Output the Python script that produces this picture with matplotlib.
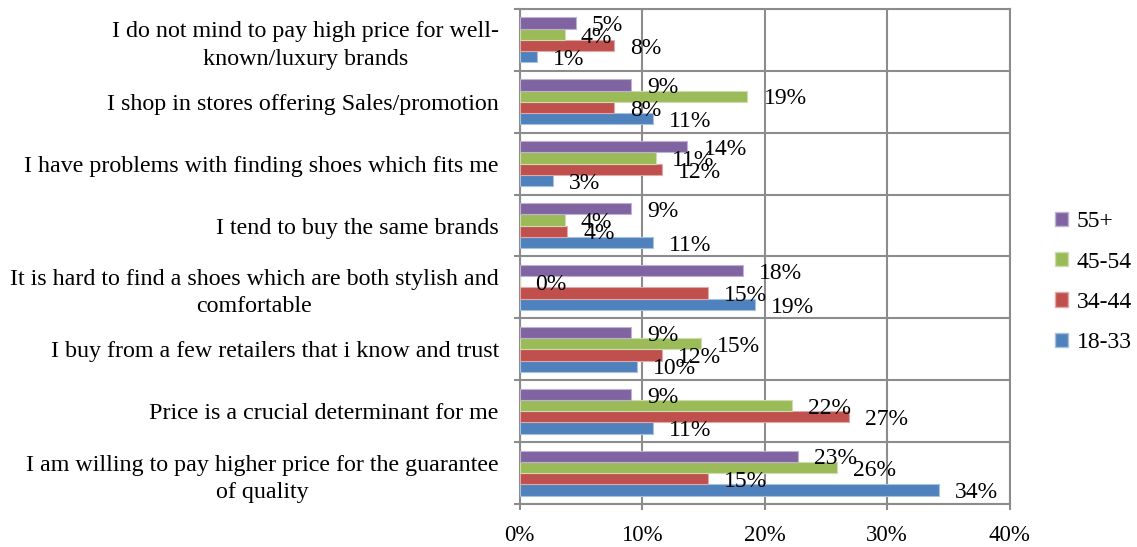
import numpy as np
import matplotlib
matplotlib.use("Agg")
import matplotlib.pyplot as plt
from matplotlib.patches import Patch

plt.rcParams['font.family'] = ['Liberation Serif', 'DejaVu Serif']

# statements, top to bottom as in the chart
statements = [
    "I do not mind to pay high price for well-\nknown/luxury brands",
    "I shop in stores offering Sales/promotion",
    "I have problems with finding shoes which fits me",
    "I tend to buy the same brands",
    "It is hard to find a shoes which are both stylish and\ncomfortable",
    "I buy from a few retailers that i know and trust",
    "Price is a crucial determinant for me",
    "I am willing to pay higher price for the guarantee\nof quality",
]

# share of each age group (%)
age_18_33 = [1.4, 10.9, 2.7, 10.9, 19.2, 9.6, 10.9, 34.2]
age_34_44 = [7.7, 7.7, 11.6, 3.9, 15.4, 11.6, 26.9, 15.4]
age_45_54 = [3.7, 18.6, 11.1, 3.7, 0.0, 14.8, 22.2, 25.9]
age_55 = [4.6, 9.1, 13.7, 9.1, 18.2, 9.1, 9.1, 22.7]

groups = ["18-33", "34-44", "45-54", "55+"]
colors = ["#4F81BD", "#C0504D", "#9BBB59", "#8064A2"]
edges = ["#a7c0de", "#e0a8a6", "#cddcac", "#bfb1d0"]
series = [age_18_33, age_34_44, age_45_54, age_55]

fig = plt.figure(figsize=(11.37, 5.47), dpi=100)
ax = fig.add_axes([0.457, 0.0786, 0.431, 0.905])

y = np.arange(len(statements))
h = 0.182
offsets = [1.5 * h, 0.5 * h, -0.5 * h, -1.5 * h]

for vals, col, ec, off in zip(series, colors, edges, offsets):
    ax.barh(y + off, vals, height=h, color=col, edgecolor=ec, linewidth=0.8, zorder=3)
    for yi, v in zip(y, vals):
        ax.annotate("%d%%" % round(v), xy=(v, yi + off), xytext=(11.5, -2),
                    textcoords="offset points", ha="left", va="center",
                    fontsize=17, zorder=4)

ax.set_xlim(0, 40)
ax.set_ylim(len(statements) - 0.5, -0.5)
ax.set_xticks([0, 10, 20, 30, 40])
ax.set_xticklabels(["0%", "10%", "20%", "30%", "40%"], fontsize=16.5)
ax.set_yticks(y)
ax.set_yticklabels(statements, fontsize=17.3, multialignment="center", linespacing=1.4)
ax.set_yticks(np.arange(-0.5, len(statements) + 0.5, 1), minor=True)

gc = "#8c8c8c"
ax.grid(True, axis="x", which="major", color=gc, linewidth=1.5, zorder=0)
ax.grid(True, axis="y", which="minor", color=gc, linewidth=1.5, zorder=0)
ax.grid(False, axis="y", which="major")
ax.tick_params(axis="y", which="major", length=0, pad=15)
ax.tick_params(axis="y", which="minor", length=4, width=1.5, color=gc, direction="out")
ax.tick_params(axis="x", which="major", length=4, width=1.5, color=gc, direction="out", pad=11)
for s in ax.spines.values():
    s.set_color(gc)
    s.set_linewidth(1.5)

handles = [Patch(facecolor=c, edgecolor=e, label=g) for g, c, e in zip(groups, colors, edges)][::-1]
fig.legend(handles=handles, loc="center left", bbox_to_anchor=(0.920, 0.484),
           frameon=False, fontsize=17, handlelength=0.55, handleheight=0.55,
           handletextpad=0.35, labelspacing=0.82, borderaxespad=0)

fig.savefig("out.png", dpi=100)
